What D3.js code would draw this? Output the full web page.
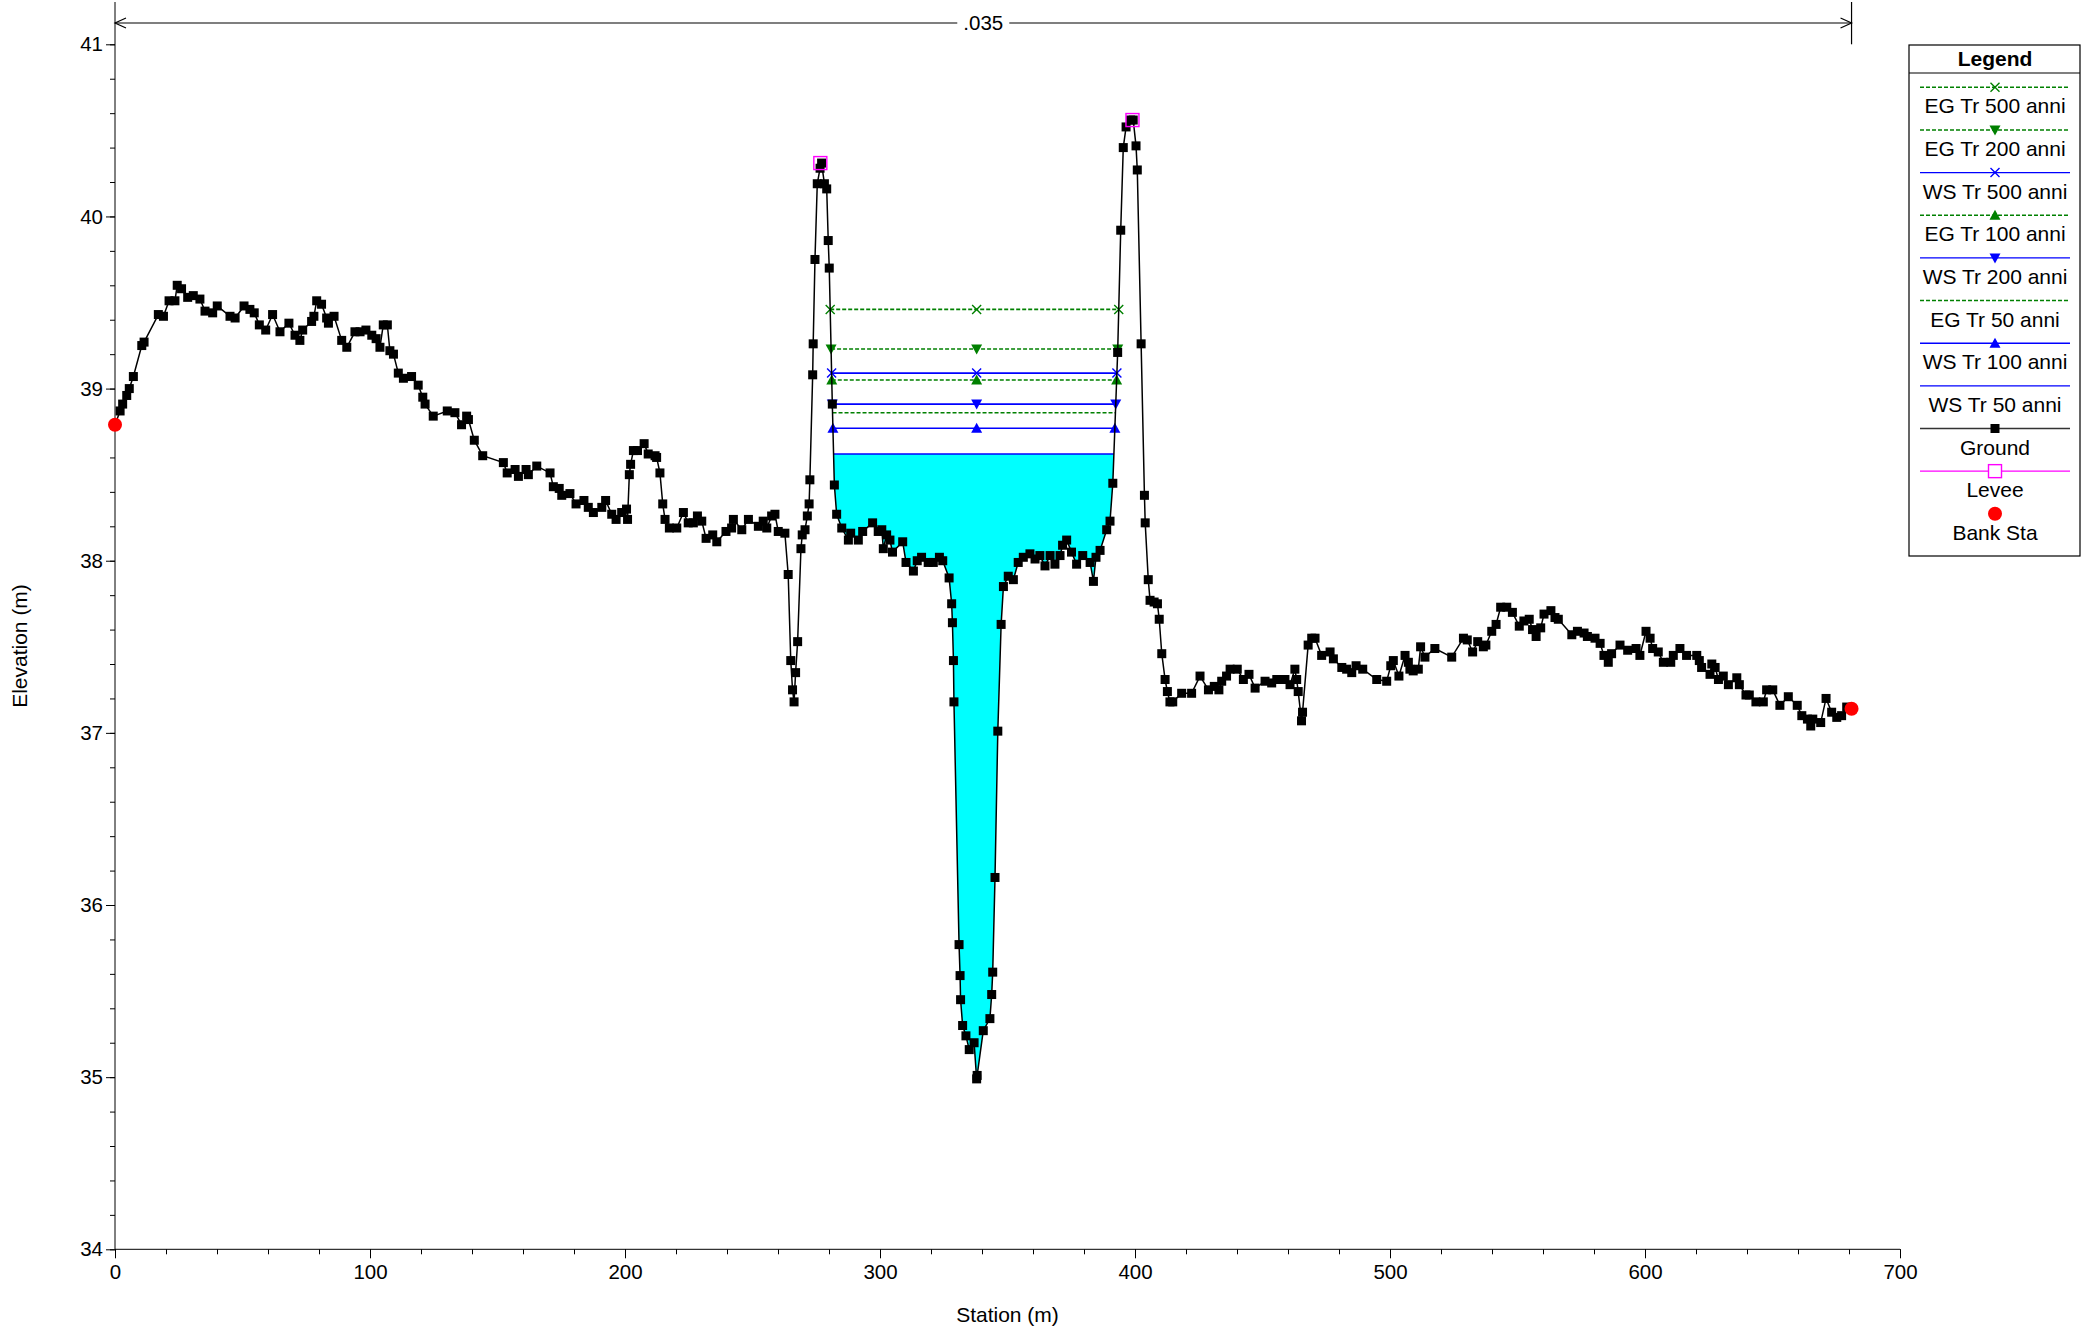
<!DOCTYPE html>
<html><head><meta charset="utf-8">
<script src="https://cdn.jsdelivr.net/npm/d3@7"></script>
<style>html,body{margin:0;padding:0;background:#fff;}svg{display:block;}</style>
</head><body>
<svg id="chart" width="2089" height="1332"></svg>
<script>
// ---------------- DATA ----------------
const ground = [
[0,38.79],[2.0,38.87],[3.0,38.91],[4.6,38.96],[5.6,39.00],[7.2,39.07],[10.5,39.25],[11.4,39.27],[17.0,39.43],[19.0,39.42],
[21.2,39.51],[23.5,39.51],[24.4,39.60],[26.1,39.58],[28.5,39.53],[30.7,39.54],[33.3,39.52],[35.3,39.45],[38.3,39.44],[40.1,39.48],
[45.1,39.42],[47.1,39.41],[50.6,39.48],[52.9,39.46],[54.6,39.44],[56.6,39.37],[59.1,39.34],[61.8,39.43],[64.7,39.33],[68.2,39.38],
[70.6,39.31],[72.5,39.28],[73.6,39.34],[77.1,39.39],[78.0,39.42],[79.1,39.51],[81.0,39.49],[83.0,39.41],[83.7,39.38],[85.9,39.42],
[88.9,39.28],[90.9,39.24],[94.1,39.33],[96.1,39.33],[98.4,39.34],[100.7,39.31],[102.4,39.29],[103.9,39.24],[105.2,39.37],[106.8,39.37],
[107.8,39.22],[109.2,39.20],[111.1,39.09],[113.1,39.06],[116.3,39.07],[118.9,39.02],[120.7,38.95],[121.6,38.91],[124.8,38.84],[130.3,38.87],
[133.3,38.86],[135.9,38.79],[137.9,38.84],[138.6,38.82],[140.9,38.70],[144.2,38.61],[152.3,38.57],[153.8,38.51],[156.9,38.53],[158.2,38.49],
[161.2,38.53],[162.1,38.50],[165.4,38.55],[170.6,38.51],[171.9,38.43],[174.2,38.42],[175.2,38.38],[178.4,38.39],[180.8,38.33],[183.9,38.35],
[185.6,38.31],[187.6,38.28],[190.9,38.31],[192.4,38.35],[194.8,38.27],[196.5,38.24],[198.7,38.28],[200.6,38.30],[201.0,38.24],[201.7,38.50],
[202.2,38.56],[203.3,38.64],[204.9,38.64],[207.5,38.68],[209.1,38.62],[211.8,38.61],[212.4,38.60],[213.7,38.51],[214.8,38.33],[215.7,38.24],
[217.4,38.19],[220.3,38.19],[222.9,38.28],[224.8,38.22],[226.8,38.22],[228.4,38.26],[230.1,38.23],[231.8,38.13],[234.4,38.15],[236.0,38.11],
[239.6,38.17],[241.8,38.19],[242.5,38.24],[245.8,38.18],[248.4,38.24],[252.3,38.20],[254.2,38.23],[255.6,38.19],[257.5,38.26],[258.8,38.27],
[260.1,38.17],[262.7,38.16],[264.0,37.92],[265.0,37.42],[265.7,37.25],[266.3,37.18],[266.9,37.35],[267.7,37.53],[269.0,38.07],[269.5,38.15],
[270.6,38.18],[271.5,38.26],[272.2,38.33],[272.5,38.47],[273.6,39.08],[273.8,39.26],[274.5,39.75],[275.4,40.19],[276.5,40.28],[277.1,40.31],
[278.2,40.19],[279.1,40.16],[279.7,39.86],[280.1,39.70],[281.3,38.91],[282.1,38.44],[283.0,38.27],[285.0,38.19],[287.6,38.12],[288.5,38.16],
[291.5,38.12],[293.2,38.17],[297.1,38.22],[299.3,38.17],[300.7,38.18],[301.3,38.07],[302.6,38.15],[303.9,38.12],[304.9,38.05],[308.9,38.11],
[310.2,37.99],[313.1,37.94],[314.6,38.00],[316.3,38.02],[318.9,37.99],[320.9,37.99],[323.3,38.02],[324.6,38.00],[327.1,37.90],[328.1,37.75],
[328.4,37.64],[328.8,37.42],[329.0,37.18],[331.0,35.77],[331.4,35.59],[331.6,35.45],[332.4,35.30],[333.7,35.24],[335.0,35.16],[336.9,35.20],
[337.9,34.99],[338.1,35.01],[340.5,35.27],[343.1,35.34],[343.8,35.48],[344.2,35.61],[345.1,36.16],[346.2,37.01],[347.5,37.63],[348.4,37.85],
[350.3,37.91],[352.3,37.89],[354.2,37.99],[356.2,38.02],[358.8,38.04],[360.8,38.01],[362.7,38.03],[364.7,37.97],[366.7,38.03],[368.6,37.98],
[370.6,38.03],[371.6,38.09],[373.2,38.12],[375.1,38.05],[377.1,37.98],[379.5,38.03],[382.4,37.99],[383.7,37.88],[384.7,38.02],[386.3,38.06],
[388.9,38.18],[390.2,38.23],[391.3,38.45],[393.2,39.21],[394.4,39.92],[395.4,40.40],[396.5,40.52],[398.3,40.56],[399.3,40.56],[400.4,40.41],
[400.9,40.27],[402.4,39.26],[403.7,38.38],[404.0,38.22],[405.2,37.89],[405.9,37.77],[407.5,37.76],[408.8,37.75],[409.5,37.66],[410.5,37.46],
[411.8,37.31],[412.7,37.24],[413.7,37.18],[414.8,37.18],[418.3,37.23],[422.2,37.23],[425.5,37.33],[428.8,37.25],[431.1,37.27],[432.9,37.25],
[434.0,37.30],[435.9,37.33],[437.3,37.37],[440.1,37.37],[442.5,37.31],[444.7,37.34],[447.1,37.26],[451.0,37.30],[453.6,37.29],[455.6,37.31],
[458.8,37.31],[460.8,37.28],[462.7,37.37],[463.4,37.31],[464.0,37.24],[465.3,37.07],[465.7,37.12],[467.9,37.51],[469.3,37.55],[470.6,37.55],
[473.2,37.45],[476.5,37.47],[477.8,37.43],[481.1,37.38],[483.0,37.37],[485.0,37.35],[486.7,37.39],[489.3,37.37],[494.8,37.31],[498.7,37.30],
[500.3,37.39],[501.3,37.42],[503.5,37.33],[505.9,37.45],[507.2,37.41],[507.8,37.37],[509.1,37.36],[511.1,37.37],[512.0,37.50],[513.7,37.44],
[517.6,37.49],[524.2,37.44],[528.8,37.55],[530.3,37.54],[532.4,37.47],[534.4,37.53],[536.6,37.50],[537.6,37.51],[539.9,37.59],[541.6,37.63],
[543.4,37.73],[545.8,37.73],[548.0,37.70],[550.7,37.62],[552.5,37.65],[554.6,37.66],[555.9,37.60],[557.3,37.56],[559.1,37.61],[560.4,37.69],
[563.1,37.71],[564.7,37.67],[566.0,37.66],[571.3,37.57],[573.5,37.59],[576.1,37.58],[577.4,37.56],[580.4,37.55],[582.4,37.52],[583.9,37.45],
[585.6,37.41],[586.9,37.46],[590.2,37.51],[593.2,37.48],[596.5,37.49],[598.0,37.45],[600.4,37.59],[602.0,37.55],[603.0,37.49],[605.2,37.47],
[607.2,37.41],[610.1,37.41],[611.1,37.45],[613.7,37.49],[616.3,37.45],[620.3,37.45],[621.3,37.42],[622.2,37.38],[625.5,37.34],[626.2,37.40],
[627.5,37.38],[628.8,37.31],[630.7,37.33],[632.7,37.28],[636.0,37.32],[637.0,37.28],[639.6,37.22],[640.9,37.22],[643.5,37.18],[646.4,37.18],
[647.7,37.25],[650.1,37.25],[652.9,37.16],[656.2,37.21],[659.7,37.16],[661.5,37.10],[663.7,37.08],[665.0,37.04],[665.8,37.08],[668.9,37.06],
[671.0,37.20],[673.2,37.12],[675.2,37.09],[677.1,37.10],[679.1,37.15],[681.0,37.14]
];
const profileNames = ["EG Tr 500 anni","EG Tr 200 anni","WS Tr 500 anni","EG Tr 100 anni","WS Tr 200 anni","EG Tr 50 anni","WS Tr 100 anni","WS Tr 50 anni"];
const profileElev  = [39.46, 39.23, 39.09, 39.05, 38.91, 38.86, 38.77, 38.62];
const levees = [[276.6, 40.31],[399.0, 40.56]];
const bankSta = [[0, 38.79],[681.0, 37.14]];
const manningN = [".035"];
const xTicks = [0,100,200,300,400,500,600,700];
const yTicks = [34,35,36,37,38,39,40,41];

// ---------------- STYLE ----------------
const FONT = "'Liberation Sans', Arial, sans-serif";
const GREEN = "#008000", BLUE = "#0000ff";
const profStyle = {
  "EG Tr 500 anni":{c:GREEN,dash:"4,2",m:"x"},
  "EG Tr 200 anni":{c:GREEN,dash:"4,2",m:"tdown"},
  "WS Tr 500 anni":{c:BLUE,dash:null,m:"x"},
  "EG Tr 100 anni":{c:GREEN,dash:"4,2",m:"tup"},
  "WS Tr 200 anni":{c:BLUE,dash:null,m:"tdown"},
  "EG Tr 50 anni":{c:GREEN,dash:"4,2",m:null},
  "WS Tr 100 anni":{c:BLUE,dash:null,m:"tup"},
  "WS Tr 50 anni":{c:BLUE,dash:null,m:null}
};

const svg = d3.select("#chart");
const x = d3.scaleLinear().domain([0,700]).range([115,1900]);
const y = d3.scaleLinear().domain([34,41]).range([1249.3,44.3]);

// ---------------- AXES ----------------
const gx = svg.append("g").attr("transform",`translate(0,${y(34)})`);
gx.call(d3.axisBottom(x).tickValues(d3.range(0,701,20)).tickSize(5).tickFormat(""));
gx.call(g=>g.select(".domain").remove());
const gx2 = svg.append("g").attr("transform",`translate(0,${y(34)})`)
  .call(d3.axisBottom(x).tickValues(xTicks).tickSize(9).tickPadding(6).tickFormat(d3.format("d")));
gx2.select(".domain").remove();
gx2.selectAll("text").attr("font-size",20.5).attr("font-family",FONT).attr("fill","#000");

const gy = svg.append("g").attr("transform",`translate(${x(0)},0)`);
gy.call(d3.axisLeft(y).tickValues(d3.range(0,36).map(i=>34+i*0.2)).tickSize(5).tickFormat(""));
gy.select(".domain").remove();
const gy2 = svg.append("g").attr("transform",`translate(${x(0)},0)`)
  .call(d3.axisLeft(y).tickValues(yTicks).tickSize(9).tickPadding(3).tickFormat(d3.format("d")));
gy2.select(".domain").remove();
gy2.selectAll("text").attr("font-size",20.5).attr("font-family",FONT).attr("fill","#000");
svg.selectAll(".tick line").attr("stroke","#000");

svg.append("line").attr("x1",x(0)).attr("x2",x(0)).attr("y1",2).attr("y2",y(34)).attr("stroke","#000").attr("stroke-width",1);
svg.append("line").attr("x1",x(0)).attr("x2",x(700)).attr("y1",y(34)).attr("y2",y(34)).attr("stroke","#000").attr("stroke-width",1);

svg.append("text").attr("x",(x(0)+x(700))/2).attr("y",1322).attr("text-anchor","middle")
  .attr("font-family",FONT).attr("font-size",21).text("Station (m)");
svg.append("text").attr("transform",`translate(27,646) rotate(-90)`).attr("text-anchor","middle")
  .attr("font-family",FONT).attr("font-size",21).text("Elevation (m)");

// ---------------- MANNING DIMENSION ----------------
const dimY = 23;
const xl = x(bankSta[0][0]), xr = x(bankSta[1][0]);
svg.append("line").attr("x1",xl).attr("x2",xr).attr("y1",dimY).attr("y2",dimY).attr("stroke","#000").attr("stroke-width",1.2);
svg.append("path").attr("d",`M${xl+11},${dimY-5}L${xl},${dimY}L${xl+11},${dimY+5}`).attr("fill","none").attr("stroke","#000").attr("stroke-width",1.2);
svg.append("path").attr("d",`M${xr-11},${dimY-5}L${xr},${dimY}L${xr-11},${dimY+5}`).attr("fill","none").attr("stroke","#000").attr("stroke-width",1.2);
svg.append("line").attr("x1",xr).attr("x2",xr).attr("y1",2).attr("y2",y(41)).attr("stroke","#000").attr("stroke-width",1.2);
const midX = (xl+xr)/2;
svg.append("rect").attr("x",midX-26).attr("y",dimY-12).attr("width",52).attr("height",24).attr("fill","#fff");
svg.append("text").attr("x",midX).attr("y",dimY+7).attr("text-anchor","middle").attr("font-family",FONT).attr("font-size",20.5).text(manningN[0]);

// ---------------- WATER PROFILES ----------------
let iMin = 0;
ground.forEach((p,i)=>{ if(p[1]<ground[iMin][1]) iMin=i; });
function crossing(ws){
  let li=iMin; while(li>0 && ground[li-1][1]<ws) li--;
  const a=ground[li-1], b=ground[li];
  const sl = a[0]+(b[0]-a[0])*(ws-a[1])/(b[1]-a[1]);
  let ri=iMin; while(ri<ground.length-1 && ground[ri+1][1]<ws) ri++;
  const c=ground[ri], d=ground[ri+1];
  const sr = c[0]+(d[0]-c[0])*(ws-c[1])/(d[1]-c[1]);
  return {sl, sr, li, ri};
}

{
  const ws = profileElev[profileElev.length-1];
  const cr = crossing(ws);
  const pts = [[cr.sl,ws]].concat(ground.slice(cr.li,cr.ri+1)).concat([[cr.sr,ws]]);
  svg.append("path").datum(pts)
    .attr("d", d3.area().x(d=>x(d[0])).y0(d=>y(d[1])).y1(y(ws)))
    .attr("fill","#00ffff").attr("stroke","none");
}

function drawMarker(g, type, cx, cy, color){
  const s=4.5;
  if(type==="x"){
    g.append("path").attr("d",`M${cx-s},${cy-s}L${cx+s},${cy+s}M${cx-s},${cy+s}L${cx+s},${cy-s}`)
      .attr("stroke",color).attr("stroke-width",1.4).attr("fill","none");
  } else if(type==="tup"){
    g.append("path").attr("d",`M${cx},${cy-5.5}L${cx+5.5},${cy+4.5}L${cx-5.5},${cy+4.5}Z`).attr("fill",color);
  } else if(type==="tdown"){
    g.append("path").attr("d",`M${cx},${cy+5.5}L${cx+5.5},${cy-4.5}L${cx-5.5},${cy-4.5}Z`).attr("fill",color);
  }
}

const gWS = svg.append("g");
profileNames.forEach((nm,i)=>{
  const ws = profileElev[i], st = profStyle[nm];
  const cr = crossing(ws);
  gWS.append("line").attr("x1",x(cr.sl)).attr("x2",x(cr.sr)).attr("y1",y(ws)).attr("y2",y(ws))
    .attr("stroke",st.c).attr("stroke-width",1.6).attr("stroke-dasharray",st.dash);
  if(st.m){
    [cr.sl, ground[iMin][0], cr.sr].forEach(s=>drawMarker(gWS, st.m, x(s), y(ws), st.c));
  }
});

// ---------------- GROUND ----------------
svg.append("path").datum(ground)
  .attr("d", d3.line().x(d=>x(d[0])).y(d=>y(d[1])))
  .attr("fill","none").attr("stroke","#000").attr("stroke-width",1.5);
svg.append("g").selectAll("rect").data(ground).join("rect")
  .attr("x",d=>x(d[0])-4.5).attr("y",d=>y(d[1])-4.5).attr("width",9).attr("height",9).attr("fill","#000");

svg.append("g").selectAll("rect").data(levees).join("rect")
  .attr("x",d=>x(d[0])-6.5).attr("y",d=>y(d[1])-6.5).attr("width",13).attr("height",13)
  .attr("fill","none").attr("stroke","#ff00ff").attr("stroke-width",1.4);
svg.append("g").selectAll("circle").data(bankSta).join("circle")
  .attr("cx",d=>x(d[0])).attr("cy",d=>y(d[1])).attr("r",7).attr("fill","#ff0000");

// ---------------- LEGEND ----------------
const L = {x0:1909, x1:2080, y0:45, y1:556};
const lg = svg.append("g");
lg.append("rect").attr("x",L.x0).attr("y",L.y0).attr("width",L.x1-L.x0).attr("height",L.y1-L.y0)
  .attr("fill","#fff").attr("stroke","#000").attr("stroke-width",1.2);
lg.append("line").attr("x1",L.x0).attr("x2",L.x1).attr("y1",73).attr("y2",73).attr("stroke","#000").attr("stroke-width",1.2);
lg.append("text").attr("x",1995).attr("y",66).attr("text-anchor","middle").attr("font-family",FONT)
  .attr("font-size",21).attr("font-weight","bold").text("Legend");
const legendItems = profileNames.concat(["Ground","Levee","Bank Sta"]);
legendItems.forEach((nm,i)=>{
  const ly = 87.3 + i*42.65, ty = ly + 26;
  const cx = 1995;
  if(profStyle[nm]){
    const st = profStyle[nm];
    lg.append("line").attr("x1",1920).attr("x2",2070).attr("y1",ly).attr("y2",ly)
      .attr("stroke",st.c).attr("stroke-width",1.4).attr("stroke-dasharray",st.dash);
    if(st.m) drawMarker(lg, st.m, cx, ly, st.c);
  } else if(nm==="Ground"){
    lg.append("line").attr("x1",1920).attr("x2",2070).attr("y1",ly).attr("y2",ly).attr("stroke","#333").attr("stroke-width",1.6);
    lg.append("rect").attr("x",cx-4.5).attr("y",ly-4.5).attr("width",9).attr("height",9).attr("fill","#000");
  } else if(nm==="Levee"){
    lg.append("line").attr("x1",1920).attr("x2",2070).attr("y1",ly).attr("y2",ly).attr("stroke","#ff00ff").attr("stroke-width",1.4);
    lg.append("rect").attr("x",cx-6.5).attr("y",ly-6.5).attr("width",13).attr("height",13).attr("fill","#fff").attr("stroke","#ff00ff").attr("stroke-width",1.4);
  } else {
    lg.append("circle").attr("cx",cx).attr("cy",ly).attr("r",7).attr("fill","#ff0000");
  }
  lg.append("text").attr("x",cx).attr("y",ty).attr("text-anchor","middle").attr("font-family",FONT)
    .attr("font-size",21).text(nm);
});
</script>
</body></html>
